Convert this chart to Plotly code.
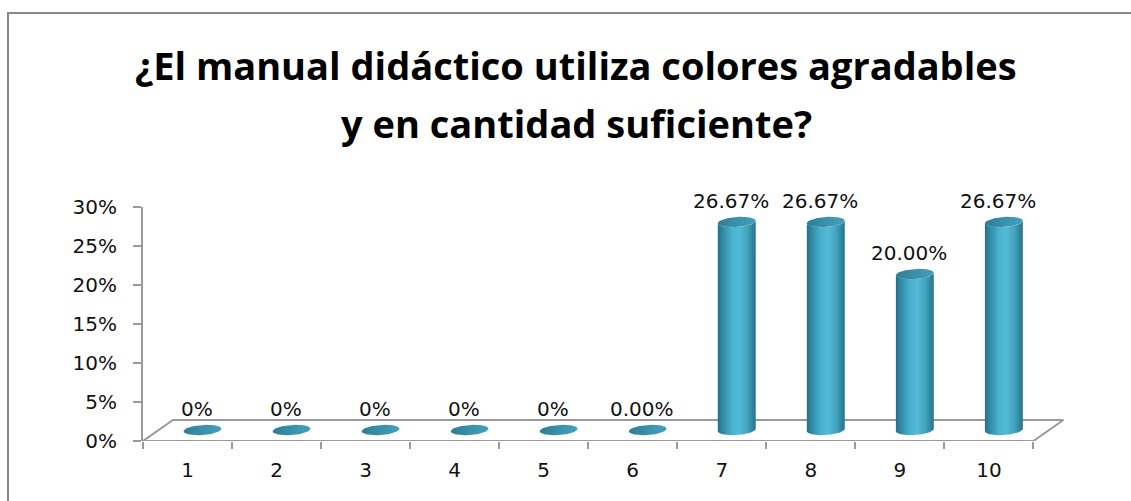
import numpy as np
import plotly.graph_objects as go

# ---- data -------------------------------------------------------------
categories = ["1", "2", "3", "4", "5", "6", "7", "8", "9", "10"]
percent = [0, 0, 0, 0, 0, 0, 26.67, 26.67, 20.00, 26.67]
label_decimals = [0, 0, 0, 0, 0, 2, 2, 2, 2, 2]
y_ticks = [0, 5, 10, 15, 20, 25, 30]
y_tick_text = ["0%", "5%", "10%", "15%", "20%", "25%", "30%"]
title_lines = ["¿El manual didáctico utiliza colores agradables",
               "y en cantidad suficiente?"]

# ---- geometry ---------------------------------------------------------
W, H = 1131, 501
ML, MR, MT, MB = 143, 62, 207, 60
X_RANGE = [0.5, 10.9]
Y_RANGE = [0, 30]
PX_X = (W - ML - MR) / (X_RANGE[1] - X_RANGE[0])   # pixels per category
PX_Y = (H - MT - MB) / (Y_RANGE[1] - Y_RANGE[0])   # pixels per percent

FLOOR_DX, FLOOR_DY = 30, 21      # floor depth (px)
BAR_DX, BAR_DY = 15, 11          # cylinders stand mid-depth (px)
RAD_X, RAD_Y = 19, 5             # cylinder ellipse radii (px)
TILT = np.radians(4)

AX_GREY = "#9a9a9a"
FONT = "DejaVu Sans"
TICK_SIZE = 20

pos = np.arange(1, len(categories) + 1, dtype=float)


def ellipse(cx, cy, t0, t1, n=60):
    t = np.linspace(t0, t1, n)
    ex, ey = RAD_X * np.cos(t), RAD_Y * np.sin(t)
    rx = ex * np.cos(TILT) - ey * np.sin(TILT)
    ry = ex * np.sin(TILT) + ey * np.cos(TILT)
    return cx + rx / PX_X, cy + ry / PX_Y


def px_to_paper(px, py):
    return (px - ML) / (W - ML - MR), (H - MB - py) / (H - MT - MB)


fig = go.Figure()

# floor of the 3-D plot area
fx0, fx1 = 0.5, 10.5
ddx, ddy = FLOOR_DX / PX_X, FLOOR_DY / PX_Y
fig.add_trace(go.Scatter(
    x=[fx0, fx1, fx1 + ddx, fx0 + ddx, fx0],
    y=[0, 0, ddy, ddy, 0],
    mode="lines", line=dict(color=AX_GREY, width=2),
    hoverinfo="skip", showlegend=False))

body_scale = [[0.0, "#23708a"], [0.12, "#2f88a2"], [0.35, "#48aecb"],
              [0.55, "#53bbd9"], [0.78, "#43a3bf"], [1.0, "#25738a"]]
cap_scale = [[0.0, "#2e7d94"], [0.5, "#3a91a9"], [1.0, "#43a0b9"]]

bdx, bdy = BAR_DX / PX_X, BAR_DY / PX_Y
for p, v in zip(pos, percent):
    cx = p + bdx
    base = bdy
    top = v + bdy
    if v > 0:
        bx, by = ellipse(cx, base, np.pi, 2 * np.pi)
        tx, ty = ellipse(cx, top, 2 * np.pi, np.pi)
        fig.add_trace(go.Scatter(
            x=np.concatenate([bx, tx, bx[:1]]),
            y=np.concatenate([by, ty, by[:1]]),
            mode="lines", fill="toself", line=dict(width=0, color="rgba(0,0,0,0)"),
            fillgradient=dict(type="horizontal", colorscale=body_scale),
            hoverinfo="skip", showlegend=False))
    ex, ey = ellipse(cx, top, 0, 2 * np.pi, 80)
    fig.add_trace(go.Scatter(
        x=ex, y=ey, mode="lines", fill="toself",
        line=dict(width=0, color="rgba(0,0,0,0)"),
        fillgradient=dict(type="horizontal", colorscale=cap_scale),
        hoverinfo="skip", showlegend=False))

# value labels
for p, v, d in zip(pos, percent, label_decimals):
    fig.add_annotation(x=p + 9 / PX_X, y=v, xref="x", yref="y",
                       text=f"{v:.{d}f}%", showarrow=False,
                       xanchor="center", yanchor="middle", yshift=32,
                       font=dict(family=FONT, size=TICK_SIZE, color="#111111"))

# title
for line, py in zip(title_lines, [65, 123]):
    xp, yp = px_to_paper(576, py)
    fig.add_annotation(x=xp, y=yp, xref="paper", yref="paper",
                       text=f"<b>{line}</b>", showarrow=False,
                       xanchor="center", yanchor="middle",
                       font=dict(family="Open Sans", size=38, color="#000000"))

# outer chart frame
x0p, y0p = px_to_paper(8, 13)
x1p, y1p = px_to_paper(W + 20, H + 20)
fig.add_shape(type="rect", xref="paper", yref="paper",
              x0=x0p, y0=y1p, x1=x1p, y1=y0p,
              line=dict(color="#888888", width=2), fillcolor="rgba(0,0,0,0)",
              layer="below")

fig.update_xaxes(
    range=X_RANGE, tickmode="array", tickvals=pos, ticktext=categories,
    ticks="", showline=False, showgrid=False, zeroline=False,
    ticklabelstandoff=15,
    tickfont=dict(family=FONT, size=TICK_SIZE, color="#111111"),
    minor=dict(tickmode="array", tickvals=np.arange(0.5, 11, 1.0),
               ticks="outside", ticklen=7, tickcolor=AX_GREY, tickwidth=2,
               showgrid=False))
fig.update_yaxes(
    range=Y_RANGE, tickmode="array", tickvals=y_ticks, ticktext=y_tick_text,
    ticks="outside", ticklen=8, tickcolor=AX_GREY, tickwidth=2,
    showline=True, linecolor=AX_GREY, linewidth=2,
    showgrid=False, zeroline=False, ticklabelstandoff=12,
    tickfont=dict(family=FONT, size=TICK_SIZE, color="#111111"))

fig.update_layout(
    width=W, height=H,
    margin=dict(l=ML, r=MR, t=MT, b=MB, pad=0),
    paper_bgcolor="white", plot_bgcolor="white",
    showlegend=False)

fig.write_html("out.html")
